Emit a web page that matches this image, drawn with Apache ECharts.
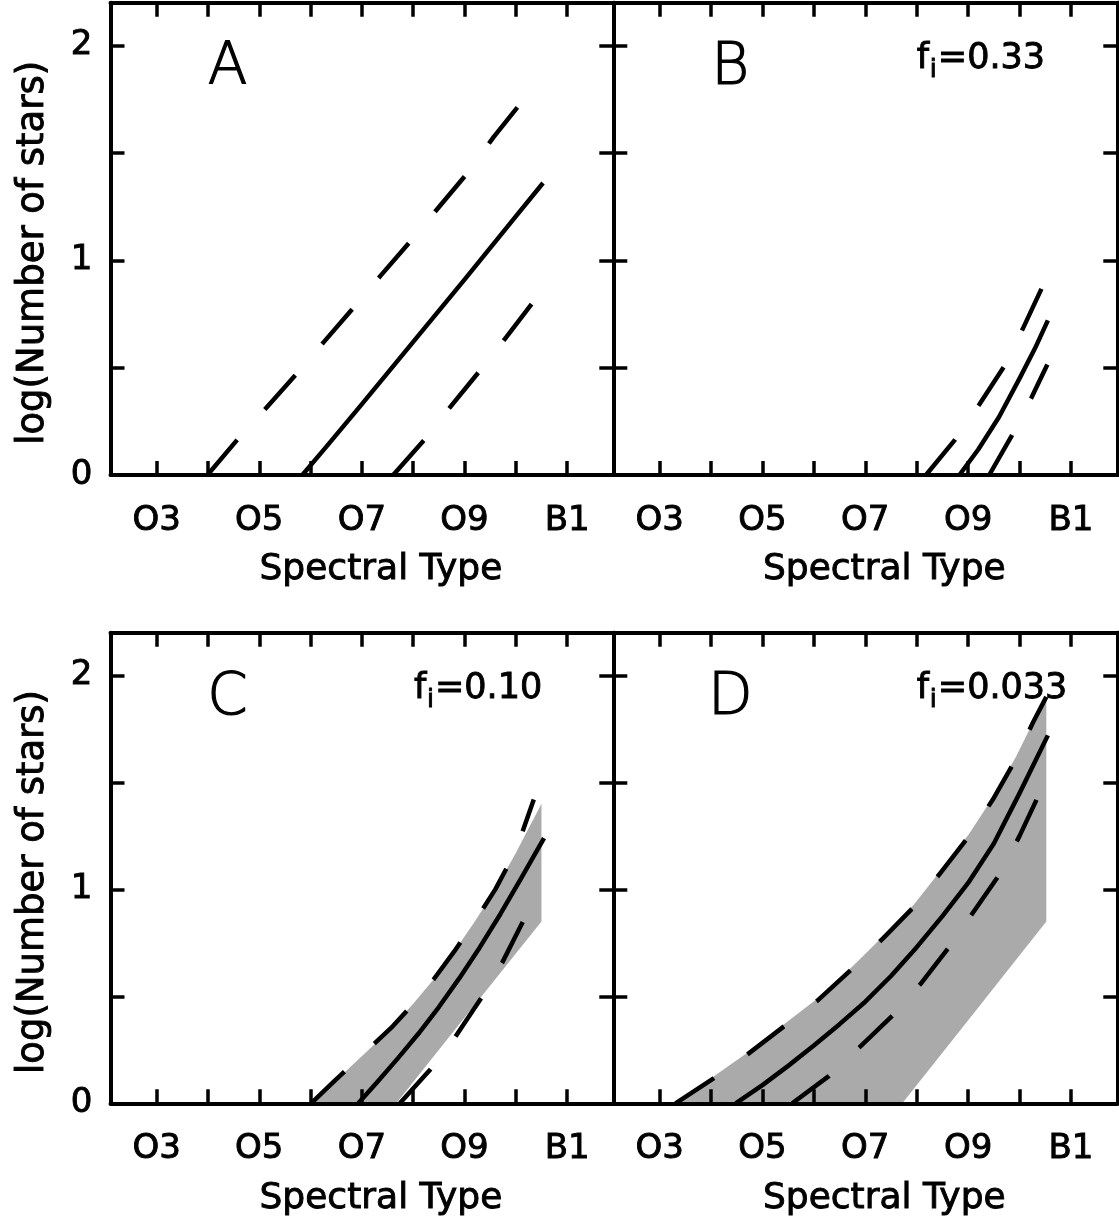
<!DOCTYPE html>
<html>
<head>
<meta charset="utf-8">
<script src="https://cdn.jsdelivr.net/npm/echarts@6/dist/echarts.min.js"></script>
<style>
  html, body { margin: 0; padding: 0; background: #fff; }
  #chart { width: 1119px; height: 1226px; }
</style>
</head>
<body>
<div id="chart"></div>
<script>
// spectral type as a number: O3 = 3 ... O9 = 9, B0 = 10, B1 = 11
const xTicks = [3, 4, 5, 6, 7, 8, 9, 10, 11];
const xLabelValues = [3, 5, 7, 9, 11];
const xLabelText = ['O3', 'O5', 'O7', 'O9', 'B1'];
const yTicks = [0.5, 1, 1.5, 2];
const yLabelValues = [0, 1, 2];

const panelNames = ['A', 'B', 'C', 'D'];
const fiValues = ['', '0.33', '0.10', '0.033'];

// panel A
const aSolid = [[5.84, 0], [6.3, 0.13], [7, 0.33], [8, 0.62], [9, 0.91], [10, 1.205], [10.53, 1.36]];
const aUpper = [[3.99, 0], [4.57, 0.164], [5.09, 0.30], [5.72, 0.47], [6.26, 0.62], [6.84, 0.78], [7.37, 0.93],
  [7.95, 1.09], [8.49, 1.245], [9.07, 1.41], [9.57, 1.575], [10.14, 1.745]];
const aLower = [[7.61, 0], [8.22, 0.164], [8.72, 0.316], [9.30, 0.486], [9.80, 0.638], [10.37, 0.816]];

// panel B
const bSolid = [[8.83, 0], [9.2, 0.12], [9.6, 0.27], [10.0, 0.45], [10.3, 0.59], [10.55, 0.72]];
const bUpper = [[8.18, 0], [8.73, 0.16], [9.22, 0.33], [9.71, 0.51], [10.08, 0.69], [10.45, 0.88]];
const bLower = [[9.41, 0], [9.84, 0.18], [10.23, 0.36], [10.54, 0.515]];

// panel C
const cSolid = [[6.93, 0], [7.3, 0.1], [7.7, 0.21], [8.1, 0.325], [8.5, 0.45], [8.9, 0.585], [9.3, 0.73],
  [9.7, 0.885], [10.1, 1.05], [10.55, 1.24]];
const cUpper = [[6.01, 0], [6.4, 0.09], [6.8, 0.18], [7.2, 0.27], [7.6, 0.36], [8.0, 0.465], [8.4, 0.58],
  [8.8, 0.71], [9.2, 0.85], [9.6, 1.0], [10.0, 1.18], [10.35, 1.42]];
const cLower = [[7.74, 0], [8.32, 0.154], [8.82, 0.31], [9.32, 0.49], [9.74, 0.66], [10.16, 0.86]];
const cBandTop = [[6.05, 0], [6.4, 0.085], [6.8, 0.175], [7.2, 0.265], [7.6, 0.36], [8.0, 0.465], [8.4, 0.58],
  [8.8, 0.71], [9.2, 0.85], [9.6, 1.0], [10.0, 1.17], [10.5, 1.40]];
const cBandBottom = [[7.67, 0], [9.08, 0.425], [10.5, 0.85]];

// panel D
const dSolid = [[4.48, 0], [5.0, 0.085], [5.5, 0.175], [6.0, 0.27], [6.5, 0.37], [7.0, 0.475], [7.5, 0.595],
  [8.0, 0.73], [8.5, 0.875], [9.0, 1.03], [9.5, 1.215], [10.0, 1.45], [10.55, 1.72]];
const dUpper = [[3.31, 0], [4.05, 0.117], [4.70, 0.227], [5.42, 0.36], [6.07, 0.48], [6.75, 0.63], [7.34, 0.77],
  [7.95, 0.92], [8.47, 1.08], [9.02, 1.25], [9.48, 1.42], [9.93, 1.61], [10.26, 1.78], [10.52, 1.90]];
const dLower = [[5.58, 0], [6.29, 0.127], [6.88, 0.26], [7.53, 0.41], [8.08, 0.56], [8.63, 0.73], [9.12, 0.9],
  [9.61, 1.07], [10.0, 1.25], [10.37, 1.44]];
const dBandTop = [[3.36, 0], [4.05, 0.125], [4.70, 0.235], [5.42, 0.37], [6.07, 0.49], [6.75, 0.64], [7.34, 0.78],
  [7.95, 0.93], [8.47, 1.09], [9.02, 1.26], [9.48, 1.43], [9.93, 1.62], [10.26, 1.78], [10.52, 1.90]];
const dBandBottom = [[7.72, 0], [9.12, 0.425], [10.52, 0.85]];

const solidLines = [aSolid, bSolid, cSolid, dSolid];
const upperLines = [aUpper, bUpper, cUpper, dUpper];
const lowerLines = [aLower, bLower, cLower, dLower];
const bandTops = [null, null, cBandTop, dBandTop];
const bandBottoms = [null, null, cBandBottom, dBandBottom];

const FONT = 'DejaVu Sans';
const boxes = [
  {left: 110.5, top: 2.7, width: 502.8, height: 472.3},
  {left: 613.3, top: 2.7, width: 504, height: 472.3},
  {left: 110.5, top: 632.7, width: 502.8, height: 470.6},
  {left: 613.3, top: 632.7, width: 504, height: 470.6}
];

// a thin outline makes DejaVu look as heavy as the original plot font
const heavy = {color: '#000', fontFamily: FONT, textBorderColor: '#000', textBorderWidth: 0.9};
const axisLine = {show: true, onZero: false, lineStyle: {color: '#000', width: 4}};
function ticks(values) {
  return {show: true, inside: true, length: 14, customValues: values, lineStyle: {color: '#000', width: 3.5}};
}
function xLabel(v) {
  const i = xLabelValues.indexOf(v);
  return i < 0 ? '' : xLabelText[i];
}

const grid = [], xAxis = [], yAxis = [], series = [], graphic = [];

boxes.forEach(function (b, p) {
  const leftCol = p % 2 === 0;
  grid.push({left: b.left, top: b.top, width: b.width, height: b.height, outerBoundsMode: 'none', containLabel: false});

  xAxis.push({
    type: 'value', gridIndex: p, position: 'bottom', min: 2.1, max: 11.9, z: 5,
    axisLine: axisLine, axisTick: ticks(xTicks), splitLine: {show: false},
    axisLabel: Object.assign({customValues: xLabelValues, formatter: xLabel, margin: 29, fontSize: 34}, heavy),
    name: 'Spectral Type', nameLocation: 'middle', nameGap: 77,
    nameTextStyle: Object.assign({fontSize: 36, padding: [0, 0, 0, 38]}, heavy)
  });
  xAxis.push({
    type: 'value', gridIndex: p, position: 'top', min: 2.1, max: 11.9, z: 5,
    axisLine: axisLine, axisTick: ticks(xTicks), axisLabel: {show: false}, splitLine: {show: false}
  });
  yAxis.push({
    type: 'value', gridIndex: p, position: 'left', min: 0, max: 2.2, z: 5,
    axisLine: axisLine, axisTick: ticks(yTicks), splitLine: {show: false},
    axisLabel: Object.assign({show: leftCol, customValues: yLabelValues, margin: 18, fontSize: 34}, heavy),
    name: leftCol ? 'log(Number of stars)' : '', nameLocation: 'middle', nameRotate: 90, nameGap: 59,
    nameTextStyle: Object.assign({fontSize: 37, padding: [0, 28, 0, 0]}, heavy)
  });
  yAxis.push({
    type: 'value', gridIndex: p, position: 'right', min: 0, max: 2.2, z: 5,
    axisLine: axisLine, axisTick: ticks(yTicks), axisLabel: {show: false}, splitLine: {show: false}
  });

  if (bandTops[p]) {
    const poly = bandTops[p].concat(bandBottoms[p].slice().reverse());
    series.push({
      type: 'custom', xAxisIndex: 2 * p, yAxisIndex: 2 * p, z: 1, silent: true,
      data: poly,
      renderItem: function (params, api) {
        if (params.dataIndex > 0) return;
        return {
          type: 'polygon',
          shape: {points: poly.map(function (pt) { return api.coord(pt); })},
          style: {fill: '#aaaaaa', stroke: null}
        };
      }
    });
  }
  [[solidLines[p], 'solid'], [upperLines[p], [46, 41]], [lowerLines[p], [46, 41]]].forEach(function (s) {
    series.push({
      type: 'line', xAxisIndex: 2 * p, yAxisIndex: 2 * p, z: 2,
      data: s[0], showSymbol: false, symbol: 'none', smooth: false, silent: true,
      lineStyle: {color: '#000', width: 4.5, type: s[1], cap: 'butt', join: 'round'}
    });
  });

  graphic.push({
    type: 'text', x: b.left + 117, y: b.top + 66.5,
    style: {text: panelNames[p], fontSize: 58, fontWeight: 200, fontFamily: FONT, fill: '#000',
      stroke: '#000', lineWidth: 1.2, textAlign: 'center', textVerticalAlign: 'middle'}
  });
  if (fiValues[p]) {
    const L = b.left + 303.5;
    const fs = {fontFamily: FONT, fill: '#000', stroke: '#000', lineWidth: 0.9, textAlign: 'left', textVerticalAlign: 'middle'};
    graphic.push({type: 'text', x: L, y: b.top + 56, style: Object.assign({text: 'f', fontSize: 35}, fs)});
    graphic.push({type: 'text', x: L + 13, y: b.top + 68, style: Object.assign({text: 'i', fontSize: 25}, fs)});
    graphic.push({type: 'text', x: L + 21, y: b.top + 56, style: Object.assign({text: '=' + fiValues[p], fontSize: 35}, fs)});
  }
});

const chart = echarts.init(document.getElementById('chart'));
chart.setOption({
  backgroundColor: '#ffffff',
  animation: false,
  grid: grid,
  xAxis: xAxis,
  yAxis: yAxis,
  series: series,
  graphic: graphic
});
</script>
</body>
</html>
